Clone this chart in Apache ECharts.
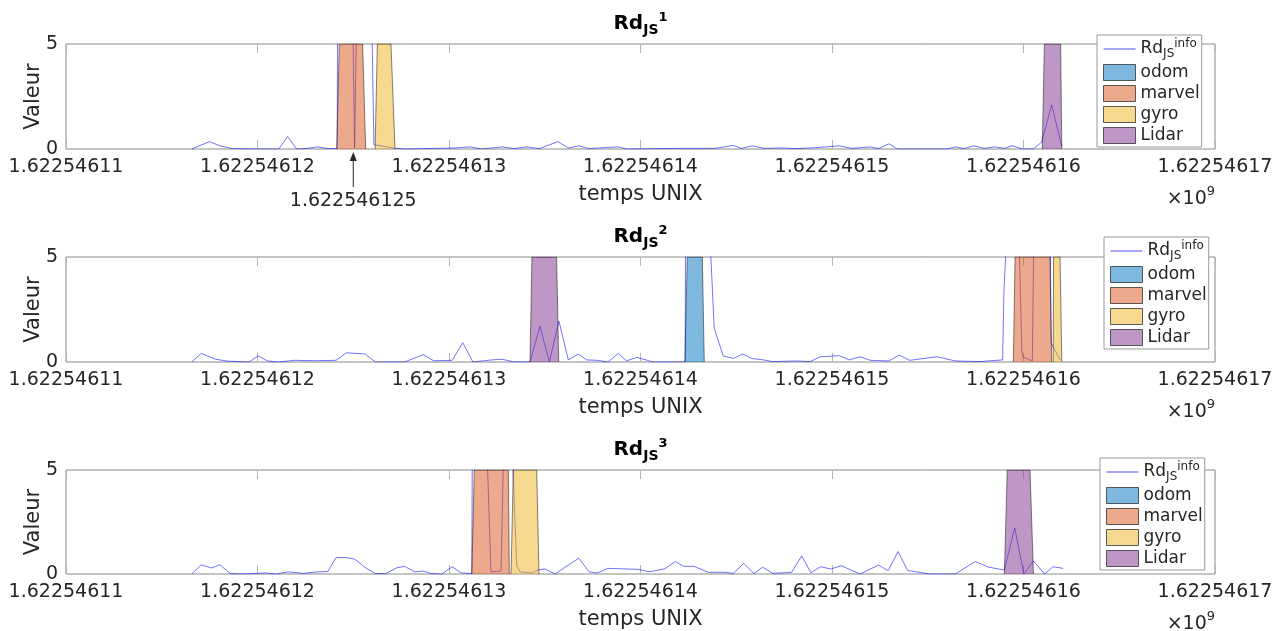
<!DOCTYPE html>
<html><head><meta charset="utf-8">
<script src="https://cdn.jsdelivr.net/npm/echarts@6/dist/echarts.min.js"></script>
<style>html,body{margin:0;padding:0;background:#fff}#c{width:1288px;height:631px}</style>
</head><body><div id="c"></div><script>
// ---------- data ----------
const xMin = 1622546110, xMax = 1622546170, xStep = 10;
const yMin = 0, yMax = 5;
const annotTime = 1622546125;
const titles = ['1', '2', '3'];
const legendNames = ['Rd', 'odom', 'marvel', 'gyro', 'Lidar'];

const rd1 = [[1622546116.56,0],[1622546117.49,0.35],[1622546118.04,0.15],[1622546118.69,0.02],[1622546119.99,0],[1622546121.11,0],[1622546121.57,0.59],[1622546122.05,0],[1622546122.58,0.03],[1622546123.13,0.1],[1622546123.67,0.02],[1622546124.16,0.02],[1622546124.27,30],[1622546124.57,30],[1622546124.98,6],[1622546125.07,0.05],[1622546125.17,6],[1622546125.35,30],[1622546125.87,30],[1622546125.97,6],[1622546126.08,0.2],[1622546126.66,0.12],[1622546127.18,0.03],[1622546127.70,0],[1622546130.32,0.05],[1622546131.10,0.1],[1622546131.69,0],[1622546132.77,0.1],[1622546133.42,0.02],[1622546134.07,0.1],[1622546134.72,0.02],[1622546135.69,0.35],[1622546136.24,0.05],[1622546136.78,0.15],[1622546137.32,0.02],[1622546137.86,0.05],[1622546138.84,0.1],[1622546139.27,0],[1622546142.14,0.03],[1622546143.87,0.03],[1622546144.85,0.17],[1622546145.28,0.03],[1622546145.82,0.15],[1622546146.47,0.03],[1622546147.34,0.05],[1622546148.21,0.02],[1622546149.08,0.06],[1622546150.38,0.15],[1622546151.02,0.03],[1622546152.00,0.1],[1622546152.43,0.02],[1622546152.98,0.25],[1622546153.41,0],[1622546156.00,0],[1622546156.44,0.1],[1622546156.88,0.02],[1622546157.41,0.15],[1622546157.96,0.03],[1622546158.50,0.1],[1622546159.03,0.03],[1622546159.40,0.16],[1622546159.95,0],[1622546160.51,0],[1622546160.95,0.33],[1622546161.47,2.1],[1622546162.00,0.13]];

const rd2 = [[1622546116.56,0],[1622546117.06,0.41],[1622546117.82,0.13],[1622546118.47,0.04],[1622546119.56,0],[1622546120.03,0.29],[1622546120.53,0.05],[1622546121.07,0],[1622546121.94,0.08],[1622546123.02,0.06],[1622546124.10,0.08],[1622546124.65,0.44],[1622546125.62,0.38],[1622546126.16,0],[1622546127.68,0],[1622546128.65,0.35],[1622546129.20,0.06],[1622546130.17,0.08],[1622546130.72,0.92],[1622546131.25,0],[1622546132.23,0.1],[1622546132.77,0.13],[1622546133.42,0],[1622546134.23,0],[1622546134.75,1.71],[1622546135.24,0],[1622546135.74,1.95],[1622546136.23,0.1],[1622546136.75,0.38],[1622546137.19,0.1],[1622546137.75,0.08],[1622546138.30,0],[1622546138.84,0.41],[1622546139.27,0.05],[1622546139.81,0.22],[1622546140.36,0.08],[1622546140.62,0],[1622546142.33,0],[1622546142.45,30],[1622546143.37,30],[1622546143.66,5.3],[1622546143.85,1.6],[1622546144.32,0.29],[1622546144.85,0.17],[1622546145.34,0.38],[1622546145.81,0.17],[1622546146.41,0.1],[1622546146.91,0.02],[1622546148.21,0.05],[1622546148.86,0.02],[1622546149.40,0.25],[1622546150.38,0.3],[1622546150.91,0.1],[1622546151.46,0.25],[1622546152.00,0.08],[1622546152.98,0.05],[1622546153.51,0.33],[1622546154.06,0.08],[1622546155.47,0.25],[1622546156.44,0.05],[1622546157.73,0.02],[1622546158.91,0.1],[1622546158.98,3.4],[1622546159.12,6],[1622546159.56,30],[1622546159.78,5.5],[1622546159.91,0.57],[1622546159.96,0.25],[1622546160.46,0.05],[1622546160.86,30],[1622546161.23,30],[1622546161.44,0.9],[1622546161.91,0.1]];

const rd3 = [[1622546116.56,0],[1622546117.06,0.44],[1622546117.60,0.29],[1622546118.04,0.44],[1622546118.58,0.02],[1622546119.23,0],[1622546120.42,0.05],[1622546120.96,0],[1622546121.61,0.1],[1622546122.37,0.03],[1622546123.13,0.1],[1622546123.67,0.12],[1622546124.10,0.79],[1622546124.65,0.79],[1622546125.08,0.71],[1622546125.73,0.24],[1622546126.16,0.02],[1622546126.70,0.02],[1622546127.25,0.29],[1622546127.68,0.37],[1622546128.22,0.1],[1622546128.65,0.14],[1622546129.09,0.02],[1622546129.63,0],[1622546130.17,0.35],[1622546130.61,0.06],[1622546131.19,0.02],[1622546131.33,30],[1622546131.93,30],[1622546132.00,5.5],[1622546132.19,0.1],[1622546132.72,0.15],[1622546132.84,5.5],[1622546133.08,30],[1622546133.32,5.5],[1622546133.54,0.41],[1622546133.71,0.1],[1622546134.32,0.05],[1622546134.66,0.2],[1622546135.01,0.24],[1622546135.54,0],[1622546135.89,0.22],[1622546136.78,0.76],[1622546137.32,0.1],[1622546137.75,0.05],[1622546138.30,0.27],[1622546139.06,0.25],[1622546139.92,0.22],[1622546140.36,0.12],[1622546140.62,0.13],[1622546141.27,0.25],[1622546141.82,0.6],[1622546142.25,0.37],[1622546142.79,0.37],[1622546143.55,0.08],[1622546144.41,0.08],[1622546144.85,0.03],[1622546145.39,0.51],[1622546145.93,0.02],[1622546146.37,0.33],[1622546146.91,0.03],[1622546147.89,0.08],[1622546148.42,0.87],[1622546148.90,0.06],[1622546149.40,0.35],[1622546149.94,0.24],[1622546150.48,0.4],[1622546151.46,0],[1622546152.43,0.43],[1622546152.93,0.16],[1622546153.45,1.08],[1622546153.95,0.17],[1622546155.14,0],[1622546156.44,0],[1622546157.48,0.6],[1622546158.17,0.33],[1622546159.00,0.19],[1622546159.54,2.22],[1622546160.02,0],[1622546160.52,0.63],[1622546161.10,0],[1622546161.54,0.35],[1622546162.07,0.27]];

// sensor windows (patches)
const marvel1 = [[1622546124.14,0],[1622546124.27,5],[1622546125.49,5],[1622546125.65,0]];
const gyro1   = [[1622546126.14,0],[1622546126.26,5],[1622546126.97,5],[1622546127.18,0]];
const lidar1  = [[1622546160.98,0],[1622546161.09,5],[1622546161.94,5],[1622546162.00,0]];
const lidar2  = [[1622546134.23,0],[1622546134.33,5],[1622546135.62,5],[1622546135.73,0]];
const odom2   = [[1622546142.32,0],[1622546142.44,5],[1622546143.23,5],[1622546143.33,0]];
const marvel2 = [[1622546159.47,0],[1622546159.56,5],[1622546161.38,5],[1622546161.47,0]];
const gyro2   = [[1622546161.55,0],[1622546161.57,5],[1622546161.91,5],[1622546162.00,0]];
const marvel3 = [[1622546131.19,0],[1622546131.32,5],[1622546133.10,5],[1622546133.15,0]];
const gyro3   = [[1622546133.24,0],[1622546133.36,5],[1622546134.58,5],[1622546134.70,0]];
const lidar3  = [[1622546159.00,0],[1622546159.15,5],[1622546160.34,5],[1622546160.52,0]];

// ---------- styling ----------
const FONT = 'DejaVu Sans';
const TXT = '#262626';
const fills = {
  odom: 'rgba(0,114,189,0.5)',
  marvel: 'rgba(217,83,25,0.5)',
  gyro: 'rgba(237,177,32,0.5)',
  Lidar: 'rgba(126,47,142,0.5)'
};
const BLUE = 'rgba(0,0,255,0.7)';
const gridTops = [44, 257, 470];
const plotH = 105;
const legendPos = [[1097, 35], [1104, 237], [1100, 458]];

const panels = [
  { rd: rd1, patches: [['marvel', marvel1], ['gyro', gyro1], ['Lidar', lidar1]] },
  { rd: rd2, patches: [['Lidar', lidar2], ['odom', odom2], ['marvel', marvel2], ['gyro', gyro2]] },
  { rd: rd3, patches: [['marvel', marvel3], ['gyro', gyro3], ['Lidar', lidar3]] }
];

const grid = [], xAxis = [], yAxis = [], series = [], legend = [];
panels.forEach((p, i) => {
  grid.push({ left: 66, right: 73, top: gridTops[i], height: plotH, show: true,
    borderColor: '#8a8a8a', borderWidth: 1, backgroundColor: '#fff' });
  xAxis.push({
    type: 'value', gridIndex: i, min: xMin, max: xMax, interval: xStep, position: 'bottom',
    axisLine: { show: false },
    axisTick: { show: true, inside: true, length: 9, lineStyle: { color: '#b5b5b5', width: 1 } },
    splitLine: { show: false },
    axisLabel: { margin: 9, fontSize: 19, fontFamily: FONT, color: TXT,
      formatter: v => (v / 1e9).toFixed(8) },
    name: 'temps UNIX', nameLocation: 'middle', nameGap: 35,
    nameTextStyle: { fontSize: 21, fontFamily: FONT, color: TXT }
  });
  xAxis.push({
    type: 'value', gridIndex: i, min: xMin, max: xMax, interval: xStep, position: 'top',
    axisLine: { show: false },
    axisTick: { show: true, inside: true, length: 9, lineStyle: { color: '#b5b5b5', width: 1 } },
    splitLine: { show: false }, axisLabel: { show: false }
  });
  yAxis.push({
    type: 'value', gridIndex: i, min: yMin, max: yMax, interval: 5,
    axisLine: { show: false }, axisTick: { show: false }, splitLine: { show: false },
    axisLabel: { margin: 8, fontSize: 19, fontFamily: FONT, color: TXT },
    name: 'Valeur', nameLocation: 'middle', nameGap: 22, nameMoveOverlap: false,
    nameTextStyle: { fontSize: 21, fontFamily: FONT, color: TXT }
  });
  series.push({
    name: 'Rd', type: 'line', xAxisIndex: 2 * i, yAxisIndex: i, data: p.rd,
    symbol: 'none', showSymbol: false, clip: true, z: 2,
    lineStyle: { color: BLUE, width: 0.8 }, itemStyle: { color: BLUE }
  });
  p.patches.forEach(([name, d]) => {
    series.push({
      name, type: 'line', xAxisIndex: 2 * i, yAxisIndex: i, data: d,
      symbol: 'none', showSymbol: false, clip: true, z: 3,
      lineStyle: { color: 'rgba(0,0,0,0.6)', width: 0.8 },
      itemStyle: { color: fills[name] },
      areaStyle: { color: fills[name], opacity: 1 }
    });
  });
  legend.push({
    orient: 'vertical', left: legendPos[i][0], top: legendPos[i][1],
    itemWidth: 32, itemHeight: 16, itemGap: 4, selectedMode: false,
    backgroundColor: '#fff', borderColor: '#9a9a9a', borderWidth: 1, borderRadius: 0,
    padding: [3, 2, 3, 6],
    data: legendNames.map(n => n === 'Rd'
      ? { name: n, icon: 'path://M0,0L30,0L30,1L0,1Z', itemStyle: { color: '#5050ff', borderWidth: 0 } }
      : { name: n, icon: 'rect', itemStyle: { color: fills[n], borderColor: 'rgba(40,40,40,0.75)', borderWidth: 1 } }),
    formatter: n => n === 'Rd' ? '{a|Rd}{b|JS}{c|info}' : n,
    textStyle: { fontSize: 17, fontFamily: FONT, color: TXT,
      rich: {
        a: { fontSize: 17, fontFamily: FONT, color: TXT },
        b: { fontSize: 12, fontFamily: FONT, color: TXT, padding: [13, 0, 3, 0] },
        c: { fontSize: 12, fontFamily: FONT, color: TXT, padding: [3, 0, 13, 0] }
      } }
  });
});

const chart = echarts.init(document.getElementById('c'), null, { renderer: 'canvas' });
chart.setOption({ animation: false, grid, xAxis, yAxis, series, legend });

// ---------- titles, exponent labels, annotation ----------
const graphic = [];
const titleRich = {
  a: { fontSize: 20, fontWeight: 'bold', fontFamily: FONT, fill: '#000' },
  b: { fontSize: 14, fontWeight: 'bold', fontFamily: FONT, fill: '#000', padding: [12, 0, 0, 0] },
  c: { fontSize: 13, fontWeight: 'bold', fontFamily: FONT, fill: '#000', padding: [0, 0, 12, 0] }
};
const expRich = {
  a: { fontSize: 19, fontFamily: FONT, fill: TXT },
  b: { fontSize: 13, fontFamily: FONT, fill: TXT, padding: [0, 0, 14, 0] }
};
panels.forEach((p, i) => {
  const xc = (chart.convertToPixel({ xAxisIndex: 2 * i }, xMin) + chart.convertToPixel({ xAxisIndex: 2 * i }, xMax)) / 2;
  const xr = chart.convertToPixel({ xAxisIndex: 2 * i }, xMax);
  const yTop = chart.convertToPixel({ yAxisIndex: i }, yMax);
  const yBot = chart.convertToPixel({ yAxisIndex: i }, yMin);
  graphic.push({ type: 'text', x: xc, y: yTop - 20, style: {
    text: '{a|Rd}{b|JS}{c|' + titles[i] + '}', rich: titleRich, align: 'center', verticalAlign: 'middle' } });
  graphic.push({ type: 'text', x: xr, y: yBot + 50, style: {
    text: '{a|×10}{b|9}', rich: expRich, align: 'right', verticalAlign: 'middle' } });
});
const ax = chart.convertToPixel({ xAxisIndex: 0 }, annotTime);
const ay = chart.convertToPixel({ yAxisIndex: 0 }, yMin);
graphic.push({ type: 'line', shape: { x1: ax, y1: ay + 38, x2: ax, y2: ay + 8 }, style: { stroke: TXT, lineWidth: 1 } });
graphic.push({ type: 'polygon', shape: { points: [[ax, ay + 3], [ax - 3.5, ay + 12], [ax + 3.5, ay + 12]] }, style: { fill: TXT } });
graphic.push({ type: 'text', x: ax, y: ay + 52, style: { text: (annotTime / 1e9).toFixed(9), font: '19px "DejaVu Sans"', fill: TXT, align: 'center', verticalAlign: 'middle' } });
chart.setOption({ graphic });
</script></body></html>
